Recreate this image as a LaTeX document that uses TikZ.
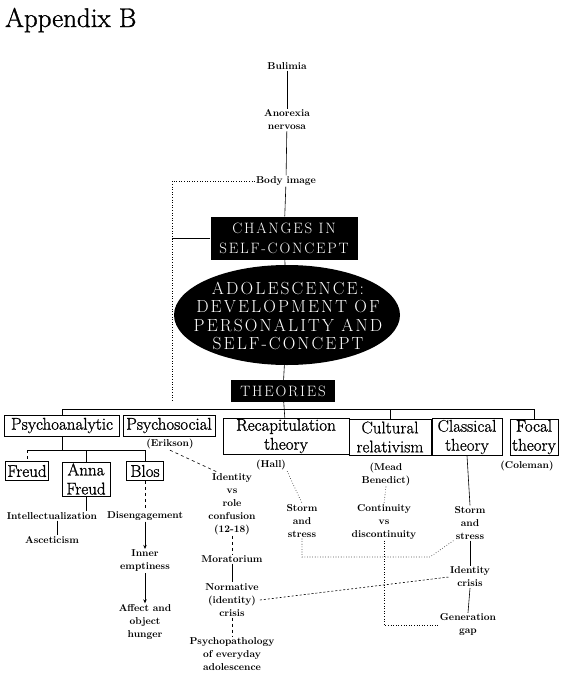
\documentclass[tikz,border=0pt]{standalone}
\usepackage{fontspec}
\usetikzlibrary{arrows.meta,shapes.geometric,calc}
\newfontfamily\capsfont[LetterSpace=12]{Latin Modern Roman}
\newfontfamily\heavyfont[FakeBold=1.2]{Latin Modern Roman}
\newfontfamily\mediumfont[FakeBold=0.6]{Latin Modern Roman}
\begin{document}
\begin{tikzpicture}[x=1pt,y=-1pt,
  lbl/.style={font=\fontsize{10}{13}\selectfont\bfseries, align=center, inner sep=1pt},
  tbox/.style={draw, line width=0.7pt, font=\heavyfont\fontsize{17}{19}\selectfont, align=center, inner sep=1pt},
  lbox/.style={tbox, font=\mediumfont\fontsize{17}{19}\selectfont},
  blk/.style={fill=black, text=white, align=center, inner sep=1pt},
  ln/.style={line width=0.6pt},
  arr/.style={ln, -{Stealth[length=4pt,width=3.5pt]}}]
\useasboundingbox (0,0) rectangle (567,686);

\node[anchor=base west, font=\heavyfont\fontsize{27}{32}\selectfont, inner sep=0] (title) at (5,27) {Appendix B};

% top chain
\node[lbl] (bul) at (287,66) {Bulimia};
\node[lbl] (ano) at (287,120) {Anorexia\\nervosa};
\node[lbl] (body) at (286,181) {Body image};
\node[blk, minimum width=147, minimum height=43, font=\capsfont\fontsize{15}{20}\selectfont] (chg) at (284,238) {CHANGES IN\\SELF-CONCEPT};
\node[ellipse, fill=black, minimum width=226, minimum height=100, inner sep=0] (ell) at (287,315) {};
\node[text=white, align=center, font=\capsfont\fontsize{17.5}{18.5}\selectfont, inner sep=0] (elltext) at (288,316) {ADOLESCENCE:\\DEVELOPMENT OF\\PERSONALITY AND\\SELF-CONCEPT};
\node[blk, minimum width=104, minimum height=22, font=\capsfont\fontsize{15}{18}\selectfont] (theo) at (283,391) {THEORIES};

% theory boxes
\node[tbox, minimum width=115, minimum height=21] (psya) at (62,425.5) {Psychoanalytic};
\node[tbox, minimum width=92, minimum height=21] (psys) at (169,425.5) {Psychosocial};
\node[tbox, minimum width=126, minimum height=36] (recap) at (286,436) {Recapitulation\\theory};
\node[lbox, minimum width=82, minimum height=36] (cult) at (390,437) {Cultural\\relativism};
\node[lbox, minimum width=70, minimum height=36] (class) at (467,437) {Classical\\theory};
\node[tbox, minimum width=48, minimum height=36] (focal) at (534,437) {Focal\\theory};

\node[lbl] (erikson) at (170,444) {(Erikson)};
\node[lbl] (hall) at (271,465) {(Hall)};
\node[lbl] (mead) at (386,474) {(Mead\\Benedict)};
\node[lbl] (coleman) at (527,466) {(Coleman)};

% psychoanalytic subtree
\node[tbox, minimum width=43, minimum height=19] (freud) at (27,471) {Freud};
\node[tbox, minimum width=48, minimum height=34] (anna) at (86,479) {Anna\\Freud};
\node[tbox, minimum width=37, minimum height=19] (blos) at (145,471) {Blos};

\node[lbl] (intel) at (52,516) {Intellectualization};
\node[lbl] (ascet) at (52,540) {Asceticism};
\node[lbl] (diseng) at (145,516) {Disengagement};
\node[lbl] (inner) at (145,561) {Inner\\emptiness};
\node[lbl] (affect) at (145,622) {Affect and\\object\\hunger};

% psychosocial
\node[lbl] (identity) at (232,504) {Identity\\vs\\role\\confusion\\(12-18)};
\node[lbl] (morat) at (232,559) {Moratorium};
\node[lbl] (norm) at (232,600) {Normative\\(identity)\\crisis};
\node[lbl] (psycho) at (232,654) {Psychopathology\\of everyday\\adolescence};

% right side
\node[lbl] (storma) at (302,521) {Storm\\and\\stress};
\node[lbl] (contin) at (384,522) {Continuity\\vs\\discontinuity};
\node[lbl] (stormb) at (470,523) {Storm\\and\\stress};
\node[lbl] (idcrisis) at (470,577) {Identity\\crisis};
\node[lbl] (gengap) at (468,625) {Generation\\gap};

% coordinates
\coordinate (lc) at (172,400);
\coordinate (bar) at (0,409);
\coordinate (sb) at (0,450);
\coordinate (k) at (430,557);

% spine
\draw[ln] (bul) -- (ano);
\draw[ln] (ano) -- (body);
\draw[ln] (body) -- (chg);
\draw[ln] (chg) -- (ell);
\draw[ln] (ell) -- (theo);
\draw[ln] (theo) -- (recap);
\draw[ln, dotted] (body.west) -| (lc);
\draw[ln] (chg.west) -- (chg.west -| lc);

% bar
\draw[ln] (psya.north) -- (psya.north |- bar) -- (focal.north |- bar) -- (focal.north);
\draw[ln] (cult.north |- bar) -- (cult.north);

% psychoanalytic subtree
\draw[ln] (psya.south) -- (psya.south |- sb);
\draw[ln] (freud.north |- sb) -- (blos.north |- sb);
\draw[ln, dashed] (freud.north |- sb) -- (freud.north);
\draw[ln] (anna.north |- sb) -- (anna.north);
\draw[ln] (blos.north |- sb) -- (blos.north);
\draw[ln] (anna.south) -- (anna.south |- intel.north);
\draw[ln] (intel.south -| 57,0) -- (ascet.north -| 57,0);
\draw[ln, dashed] (blos.south) -- (diseng.north);
\draw[arr] (diseng.south) -- (inner.north);
\draw[arr] (inner.south) -- (affect.north);

% psychosocial chain
\draw[ln, dashed] (erikson.south) -- ([xshift=10pt]identity.north west);
\draw[ln, dashed] (identity.south) -- (morat.north);
\draw[ln] (morat.south) -- (norm.north);
\draw[ln, dashed] (norm.south) -- (psycho.north);
\draw[ln, dash pattern=on 2pt off 2pt] (norm.east) -- (idcrisis.west);

% right side connectors
\draw[ln, dotted] (hall.south east) -- (storma.north);
\draw[ln, dotted] (mead.south) -- (contin.north);
\draw[ln] (class.south) -- (stormb.north);
\draw[ln, dotted] (storma.south) -- (storma.south |- k) -- (k) -- (stormb.south west);
\draw[ln, dotted] (contin.south) |- (gengap.west);
\draw[ln] (stormb.south) -- (idcrisis.north);
\draw[ln] (idcrisis.south) -- (gengap.north);
\end{tikzpicture}
\end{document}
